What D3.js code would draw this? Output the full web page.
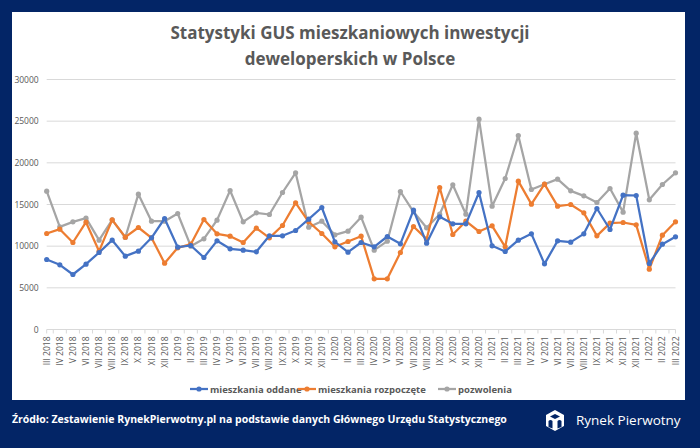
<!DOCTYPE html>
<html><head><meta charset="utf-8">
<script src="https://cdn.jsdelivr.net/npm/d3@7"></script>
<style>
html,body{margin:0;padding:0;background:#032566;}
svg{display:block;}
</style></head>
<body>
<svg id="c" width="700" height="448"></svg>
<script>
const months = ["III 2018","IV 2018","V 2018","VI 2018","VII 2018","VIII 2018","IX 2018","X 2018","XI 2018","XII 2018",
"I 2019","II 2019","III 2019","IV 2019","V 2019","VI 2019","VII 2019","VIII 2019","IX 2019","X 2019","XI 2019","XII 2019",
"I 2020","II 2020","III 2020","IV 2020","V 2020","VI 2020","VII 2020","VIII 2020","IX 2020","X 2020","XI 2020","XII 2020",
"I 2021","II 2021","III 2021","IV 2021","V 2021","VI 2021","VII 2021","VIII 2021","IX 2021","X 2021","XI 2021","XII 2021",
"I 2022","II 2022","III 2022"];
const oddane = [8400,7760,6600,7840,9240,10720,8800,9400,11000,13320,
9880,10080,8640,10640,9680,9520,9320,11240,11240,11880,13240,14640,
10520,9280,10440,9920,11160,10280,14320,10360,13520,12680,12680,16440,
10040,9360,10720,11480,7880,10640,10480,11480,14520,12000,16120,16080,
7920,10240,11120];
const rozpoczete = [11520,12040,10440,12880,9400,13160,11080,12240,11000,7960,
9800,10240,13200,11480,11200,10440,12160,11000,12480,15200,12920,11520,
9920,10560,11200,6080,6080,9240,12360,10840,17040,11400,13000,11760,
12440,9920,17800,15040,17440,14800,15000,14000,11240,12760,12840,12560,
7240,11320,12920];
const pozwolenia = [16600,12320,12920,13360,10720,13160,11040,16240,13000,13000,
13920,10000,10880,13120,16680,12920,14000,13800,16440,18800,12280,13000,
11360,11800,13480,9520,10600,16560,14120,12200,13840,17360,13840,25240,
14800,18120,23280,16800,17440,18040,16640,16040,15240,16920,14080,23560,
15560,17400,18800];
const yTicks = [0,5000,10000,15000,20000,25000,30000];
const seriesNames = ["mieszkania oddane","mieszkania rozpoczęte","pozwolenia"];
const seriesColors = ["#4472C4","#ED7D31","#A5A5A5"];
const titleLines = ["Statystyki GUS mieszkaniowych inwestycji","deweloperskich w Polsce"];
const sourceText = "Źródło: Zestawienie RynekPierwotny.pl na podstawie danych Głównego Urzędu Statystycznego";

const svg = d3.select("#c");
const FONT = "'Open Sans', 'Noto Sans', sans-serif";
svg.append("rect").attr("x",0).attr("y",0).attr("width",700).attr("height",448).attr("fill","#032566");
svg.append("rect").attr("x",12).attr("y",12).attr("width",673).attr("height",388).attr("fill","#ffffff");

// title
svg.selectAll("text.title").data(titleLines).enter().append("text")
  .attr("class","title")
  .attr("x",350).attr("y",(d,i)=>39+i*26)
  .attr("text-anchor","middle")
  .attr("font-family",FONT).attr("font-weight",700).attr("font-size","17px")
  .attr("fill","#595959").text(d=>d);

const x = d3.scalePoint().domain(months).range([46.7,675.5]);
const y = d3.scaleLinear().domain([0,30000]).range([329.5,79.5]);

// gridlines
svg.append("g").selectAll("line").data(yTicks.filter(d=>d>0)).enter().append("line")
  .attr("x1",46.7).attr("x2",675.5).attr("y1",d=>y(d)).attr("y2",d=>y(d))
  .attr("stroke","#d9d9d9").attr("stroke-width",1);

// y axis labels
const yAxis = d3.axisLeft(y).tickValues(yTicks).tickSize(0).tickPadding(8).tickFormat(d3.format("d"));
const gy = svg.append("g").attr("transform","translate(46.7,0)").call(yAxis);
gy.select(".domain").remove();
gy.selectAll("text").attr("font-family",FONT).attr("font-size","8.5px").attr("fill","#595959");

// x axis
const step = x.step();
const gx = svg.append("g").attr("transform","translate(0,"+y(0)+")");
gx.append("line").attr("x1",46.7).attr("x2",675.5).attr("y1",0).attr("y2",0).attr("stroke","#d9d9d9");
const tickPos = months.slice(0,-1).map(m=>x(m)+step/2);
gx.selectAll("line.tk").data([46.7].concat(tickPos,[675.5])).enter().append("line")
  .attr("class","tk").attr("x1",d=>d).attr("x2",d=>d).attr("y1",0).attr("y2",4)
  .attr("stroke","#d9d9d9");
gx.selectAll("text").data(months).enter().append("text")
  .attr("transform",d=>"translate("+(x(d)+3)+",7) rotate(-90)")
  .attr("text-anchor","end")
  .attr("font-family",FONT).attr("font-size","8.5px").attr("fill","#595959")
  .text(d=>d);

// series
const allSeries = [oddane, rozpoczete, pozwolenia];
const line = d3.line().x((d,i)=>x(months[i])).y(d=>y(d));
[2,1,0].forEach(k=>{
  const g = svg.append("g");
  g.append("path").datum(allSeries[k]).attr("d",line).attr("fill","none")
    .attr("stroke",seriesColors[k]).attr("stroke-width",2.25).attr("stroke-linejoin","round");
  g.selectAll("circle").data(allSeries[k]).enter().append("circle")
    .attr("cx",(d,i)=>x(months[i])).attr("cy",d=>y(d)).attr("r",2.6)
    .attr("fill",seriesColors[k]);
});

// legend
const legX = [190, 298, 438];
const legY = 389;
seriesNames.forEach((n,i)=>{
  const g = svg.append("g").attr("transform","translate("+legX[i]+","+legY+")");
  g.append("line").attr("x1",0).attr("x2",18).attr("y1",0).attr("y2",0)
    .attr("stroke",seriesColors[i]).attr("stroke-width",2.25);
  g.append("circle").attr("cx",9).attr("cy",0).attr("r",2.6).attr("fill",seriesColors[i]);
  g.append("text").attr("x",20).attr("y",3.5)
    .attr("font-family",FONT).attr("font-weight",700).attr("font-size","9.5px")
    .attr("fill","#595959").text(n);
});

// footer
svg.append("text").attr("x",12).attr("y",423)
  .attr("font-family",FONT).attr("font-weight",700).attr("font-size","10.5px")
  .attr("fill","#ffffff").text(sourceText);

// logo
const lg = svg.append("g").attr("transform","translate(555,420)");
lg.append("path").attr("d","M0,-10 L9,-5 L9,6 L0,11 L-9,6 L-9,-5 Z").attr("fill","#ffffff");
lg.append("path").attr("d","M0,-6 L5,-3.5 L0,-1 L-5,-3.5 Z").attr("fill","#032566");
lg.append("path").attr("d","M-6.5,7 L-6.5,1 Q-4.5,-1 -2.5,1 L-2.5,8.5 Z").attr("fill","#032566");
lg.append("path").attr("d","M6.5,7 L6.5,1 Q4.5,-1 2.5,1 L2.5,8.5 Z").attr("fill","#032566");
svg.append("text").attr("x",576).attr("y",424.5)
  .attr("font-family",FONT).attr("font-weight",400).attr("font-size","13.5px")
  .attr("fill","#ffffff").text("Rynek Pierwotny");
</script>
</body></html>
